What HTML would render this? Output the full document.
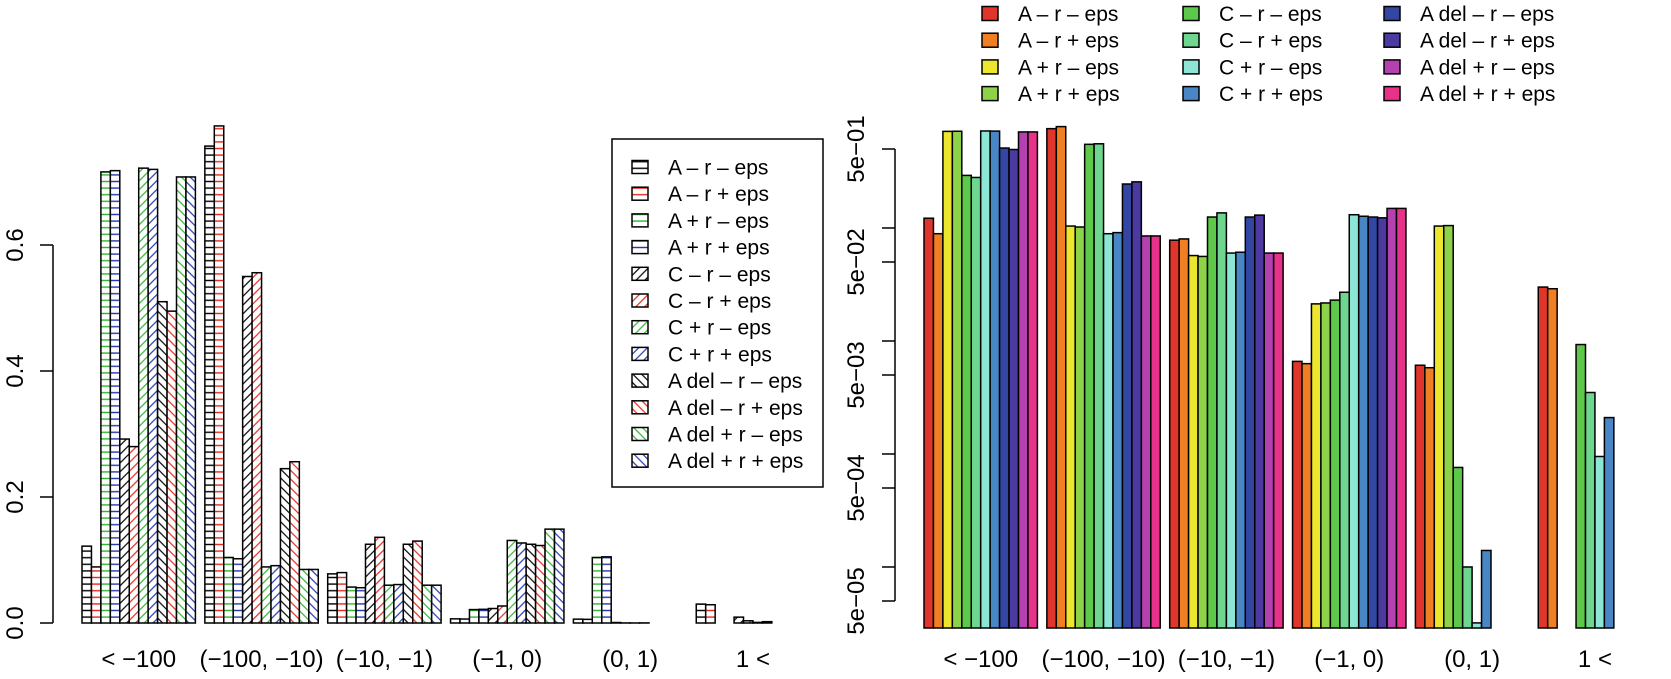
<!DOCTYPE html>
<html><head><meta charset="utf-8"><title>Bar charts</title>
<style>html,body{margin:0;padding:0;background:#fff;}svg{display:block;font-family:"Liberation Sans",Arial,sans-serif;}</style>
</head><body>
<svg id="chart" width="1671" height="679" viewBox="0 0 1671 679" xmlns="http://www.w3.org/2000/svg">
<defs id="defs"></defs>
</svg>
<script>
const categories = ["< \u2212100", "(\u2212100, \u221210)", "(\u221210, \u22121)", "(\u22121, 0)", "(0, 1)", "1 <"];
const seriesNames = ["A \u2013 r \u2013 eps","A \u2013 r + eps","A + r \u2013 eps","A + r + eps","C \u2013 r \u2013 eps","C \u2013 r + eps","C + r \u2013 eps","C + r + eps","A del \u2013 r \u2013 eps","A del \u2013 r + eps","A del + r \u2013 eps","A del + r + eps"];
// values[series][category]
const sA_r_m = [0.122, 0.757, 0.078, 0.0066, 0.0061, 0.030];
const sA_r_p = [0.089, 0.789, 0.080, 0.0063, 0.0058, 0.029];
const sA_R_m = [0.716, 0.104, 0.057, 0.0213, 0.104, 0];
const sA_R_p = [0.718, 0.102, 0.056, 0.0217, 0.105, 0];
const sC_r_m = [0.292, 0.550, 0.125, 0.023, 0.00076, 0.0093];
const sC_r_p = [0.280, 0.556, 0.136, 0.027, 0.0001, 0.0035];
const sC_R_m = [0.722, 0.089, 0.060, 0.131, 0.000032, 0.00095];
const sC_R_p = [0.720, 0.091, 0.061, 0.127, 0.00014, 0.0021];
const sD_r_m = [0.510, 0.245, 0.125, 0.125, 0, 0];
const sD_r_p = [0.495, 0.256, 0.130, 0.123, 0, 0];
const sD_R_m = [0.708, 0.085, 0.060, 0.149, 0, 0];
const sD_R_p = [0.708, 0.085, 0.060, 0.149, 0, 0];
const series = [sA_r_m,sA_r_p,sA_R_m,sA_R_p,sC_r_m,sC_r_p,sC_R_m,sC_R_p,sD_r_m,sD_r_p,sD_R_m,sD_R_p];
const leftTicks = [0, 0.2, 0.4, 0.6];
const leftTickLabels = ["0.0","0.2","0.4","0.6"];
const rightLabeledTicks = [0.5, 0.05, 0.005, 0.0005, 0.00005];
const rightLabels = ["5e\u221201","5e\u221202","5e\u221203","5e\u221204","5e\u221205"];
const rightMinorTicks = [0.1, 0.01, 0.001, 0.0001];

const hatchColors = ["#000","#e8281e","#2fb52f","#2436b0"];
const fillColors = ["#e0352a","#f07f23","#ede62f","#8ed24a","#5dc84a","#6ed68e","#8de5d5","#4986c5","#3446a3","#4d3aa0","#b441af","#e8328a"];

const NS = "http://www.w3.org/2000/svg";
const svg = document.getElementById("chart");
const defs = document.getElementById("defs");
function mk(tag, attrs, parent){const e=document.createElementNS(NS,tag);for(const k in attrs)e.setAttribute(k,attrs[k]);(parent||svg).appendChild(e);return e;}

// hatch patterns: angle 0, -45 ("/"), 45 ("\")
const angles = [0, -45, 45];
angles.forEach((a,ai)=>{hatchColors.forEach((c,ci)=>{
  const p = mk("pattern",{id:"h"+ai+"_"+ci,patternUnits:"userSpaceOnUse",width:20,height:(ai===0?6.6:6.2),patternTransform:"rotate("+a+")"},defs);
  mk("rect",{x:0,y:0,width:20,height:10,fill:"#fff"},p);
  mk("line",{x1:0,x2:20,y1:(ai===0?3.3:3.1),y2:(ai===0?3.3:3.1),stroke:c,"stroke-width":1.3},p);
});});

const W = 9.45;
// ---------- LEFT CHART ----------
const L0 = 82, LBase = 623, LScale = 630;
function lx(g,s){return L0 + g*13*W + s*W;}
function ly(v){return LBase - v*LScale;}
const leftG = mk("g",{});


series.forEach((vals,s)=>{vals.forEach((v,g)=>{
  const r = mk("rect",{x:lx(g,s),y:ly(v),width:W,height:Math.max(0,LBase-ly(v)),fill:"url(#h"+Math.floor(s/4)+"_"+(s%4)+")",stroke:"#000","stroke-width":1.5},leftG);
  
  
});});
// left y axis
const lax = mk("g",{});


mk("line",{x1:53,x2:53,y1:ly(leftTicks[0]),y2:ly(leftTicks[leftTicks.length-1]),stroke:"#000","stroke-width":1.5},lax);
leftTicks.forEach((t,i)=>{
  mk("line",{x1:40,x2:53,y1:ly(t),y2:ly(t),stroke:"#000","stroke-width":1.5},lax);
  const tx = mk("text",{x:0,y:0,"font-size":24,"text-anchor":"middle",transform:"translate(23,"+ly(t)+") rotate(-90)"},lax);
  tx.textContent = leftTickLabels[i];
  
  
});
categories.forEach((c,g)=>{
  const t = mk("text",{x:lx(g,6),y:667,"font-size":24,"text-anchor":"middle"});
  t.textContent = c;
  
  
});
// left legend
const lleg = mk("g",{});


mk("rect",{x:612,y:139,width:211,height:348,fill:"#fff",stroke:"#000","stroke-width":1.5},lleg);
seriesNames.forEach((n,s)=>{
  const y = 167 + s*26.7;
  mk("rect",{x:632,y:y-6.5,width:16,height:13,fill:"url(#h"+Math.floor(s/4)+"_"+(s%4)+")",stroke:"#000","stroke-width":1.5},lleg);
  const t = mk("text",{x:668,y:y+7.5,"font-size":21},lleg);
  t.textContent = n;
  
  
});

// ---------- RIGHT CHART ----------
const R0 = 924, RTop = 149, Decade = 113, RBase = 628;
function rx(g,s){return R0 + g*13*W + s*W;}
function ry(v){return RTop + (Math.log10(0.5)-Math.log10(v))*Decade;}
const rightG = mk("g",{});


series.forEach((vals,s)=>{vals.forEach((v,g)=>{
  if(!(v>0)) return;
  const r = mk("rect",{x:rx(g,s),y:ry(v),width:W,height:RBase-ry(v),fill:fillColors[s],stroke:"#000","stroke-width":1.5},rightG);
  
  
});});
const rax = mk("g",{});


mk("line",{x1:895,x2:895,y1:ry(0.5),y2:ry(0.00005),stroke:"#000","stroke-width":1.5},rax);
rightLabeledTicks.forEach((t,i)=>{
  mk("line",{x1:882,x2:895,y1:ry(t),y2:ry(t),stroke:"#000","stroke-width":1.5},rax);
  const tx = mk("text",{x:0,y:0,"font-size":24,"text-anchor":"middle",transform:"translate(864,"+ry(t)+") rotate(-90)"},rax);
  tx.textContent = rightLabels[i];
  
  
});
rightMinorTicks.forEach(t=>{mk("line",{x1:882,x2:895,y1:ry(t),y2:ry(t),stroke:"#000","stroke-width":1.5},rax);});
categories.forEach((c,g)=>{
  const t = mk("text",{x:rx(g,6),y:667,"font-size":24,"text-anchor":"middle"});
  t.textContent = c;
  
  
});
// right legend
const rleg = mk("g",{});


const colSw = [982, 1183, 1384];
seriesNames.forEach((n,s)=>{
  const col = Math.floor(s/4), row = s%4;
  const y = 13.5 + row*26.7;
  mk("rect",{x:colSw[col],y:y-7,width:16,height:14,fill:fillColors[s],stroke:"#000","stroke-width":1.5},rleg);
  const t = mk("text",{x:colSw[col]+36,y:y+7.5,"font-size":21},rleg);
  t.textContent = n;
  
  
});
</script>
</body></html>
